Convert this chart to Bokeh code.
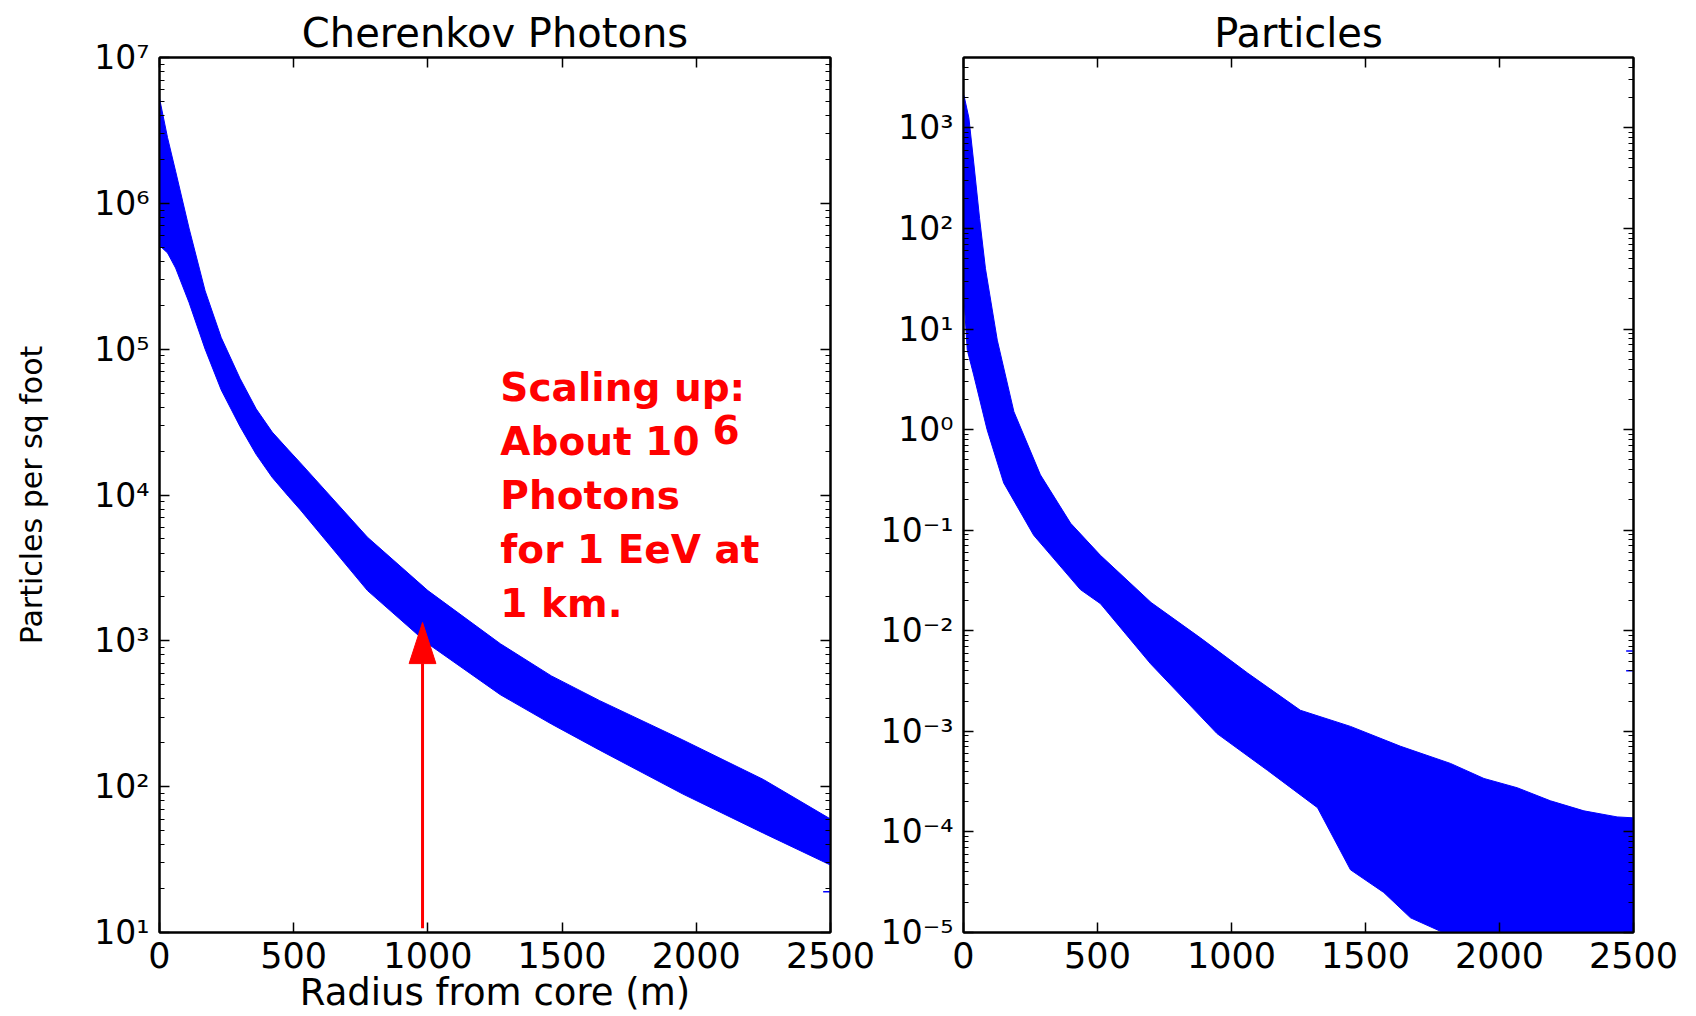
from bokeh.plotting import figure
from bokeh.layouts import row
from bokeh.models import (Range1d, FixedTicker, LinearAxis, LogAxis, CustomJSTickFormatter,
                          ColumnDataSource)
from bokeh.core.properties import value
from bokeh.embed import file_html
from bokeh.resources import INLINE

# ---------------- data ----------------
X_TICKS = [0, 500, 1000, 1500, 2000, 2500]

# Cherenkov photons: upper / lower edge of the error-bar band
CH_R = [0, 30, 60, 110, 170, 230, 300, 360, 420, 480, 525, 775, 1000, 1270, 1460, 1640, 1950, 2250, 2500]
CH_UP = [5.25e6, 2.82e6, 1.66e6, 6.76e5, 2.51e5, 1.2e5, 6.3e4, 3.9e4, 2.7e4, 2.04e4, 1.66e4, 5.13e3,
         2.21e3, 955, 575, 389, 209, 112, 60]
CH_LO = [5.13e5, 4.57e5, 3.6e5, 2.09e5, 1.0e5, 5.25e4, 2.95e4, 1.9e4, 1.32e4, 9.8e3, 7.9e3, 2.21e3,
         955, 427, 269, 178, 89, 48, 29]
CH_STRAY_R = [2495]
CH_STRAY_V = [19]
CH_EXPONENTS = [1, 2, 3, 4, 5, 6, 7]

# Particles: upper / lower edge of the error-bar band
PA_UP_R = [2, 20, 38, 60, 82, 126, 188, 287, 400, 511, 700, 884, 1060, 1257, 1444, 1631,
           1817, 1942, 2066, 2190, 2315, 2439, 2500]
PA_UP = [2090, 1260, 457, 126, 39.8, 7.76, 1.51, 0.355, 0.117, 0.0562, 0.0191, 8.5e-3, 3.8e-3,
         1.62e-3, 1.12e-3, 7.1e-4, 4.8e-4, 3.4e-4, 2.75e-4, 2.04e-4, 1.62e-4, 1.41e-4, 1.38e-4]
PA_LO_R = [2, 14, 38, 88, 150, 262, 436, 511, 698, 946, 1134, 1321, 1444, 1568, 1668, 1790, 1850, 2500]
PA_LO = [20, 6.2, 3.5, 1.0, 0.295, 0.089, 0.0257, 0.0186, 4.7e-3, 9.5e-4, 4.1e-4, 1.74e-4,
         4.2e-5, 2.5e-5, 1.4e-5, 1.0e-5, 5e-6, 5e-6]
PA_STRAY_R = [2495, 2495]
PA_STRAY_V = [6.3e-3, 4.0e-3]
PA_EXPONENTS = [-5, -4, -3, -2, -1, 0, 1, 2, 3]

ANNOT_LINES = ["Scaling up:", "About 10", "Photons", "for 1 EeV at", "1 km."]
ANNOT_SUP = "6"

# ---------------- annotation placement / style ----------------
ANNOT_X = 1270
ANNOT_Y = [10 ** 4.735, 10 ** 4.365, 10 ** 3.995, 10 ** 3.624, 10 ** 3.254]
SUP_X = 2060
SUP_Y = 10 ** 4.45
ARROW_X = 980
ARROW_FROM = 10.7
ARROW_BASE = 698
ARROW_TIP = 1337
ARROW_HALF_W = 50

BLUE = "#0000ff"
RED = "#ff0000"
FONT = "DejaVu Sans"

sup_js = """
const sup = {"-": "\\u207b", "0": "\\u2070", "1": "\\u00b9", "2": "\\u00b2", "3": "\\u00b3",
             "4": "\\u2074", "5": "\\u2075", "6": "\\u2076", "7": "\\u2077", "8": "\\u2078", "9": "\\u2079"};
const e = Math.round(Math.log10(tick));
return "10" + String(e).split("").map(c => sup[c]).join("");
"""


def log_ticker(exps, lo, hi):
    majors = [10.0 ** e for e in exps]
    minors = []
    for e in range(min(exps) - 1, max(exps) + 1):
        for k in range(2, 10):
            t = k * 10.0 ** e
            if lo <= t <= hi:
                minors.append(t)
    return FixedTicker(ticks=majors, minor_ticks=minors)


def style_axis(ax, labels=True, minor=True):
    ax.axis_line_color = "black"
    ax.axis_line_width = 2
    ax.major_tick_line_color = "black"
    ax.major_tick_line_width = 1.5
    ax.major_tick_in = 10
    ax.major_tick_out = 0
    ax.minor_tick_line_color = "black" if minor else None
    ax.minor_tick_line_width = 1.2
    ax.minor_tick_in = 5 if minor else 0
    ax.minor_tick_out = 0
    ax.major_label_text_font = FONT
    ax.major_label_text_color = "black"
    if not labels:
        ax.major_label_text_font_size = "1px"
        ax.major_label_text_color = None
        ax.major_label_standoff = 0


def make_fig(title, width, ylo, yhi, exps, border_left, border_right):
    xt = FixedTicker(ticks=X_TICKS)
    yt = log_ticker(exps, ylo, yhi)
    fmt = CustomJSTickFormatter(code=sup_js)

    p = figure(width=width, height=1016, x_range=Range1d(0, 2500), y_range=Range1d(ylo, yhi),
               x_axis_location=None, y_axis_location=None,
               y_axis_type="log", output_backend="svg", toolbar_location=None,
               min_border_left=border_left, min_border_right=border_right,
               min_border_top=57, min_border_bottom=84, title=title)
    p.title.align = "center"
    p.title.text_font = FONT
    p.title.text_font_size = "40px"
    p.title.text_font_style = "normal"
    p.title.text_color = "black"
    p.title.standoff = 4
    p.grid.visible = False
    p.outline_line_color = "black"
    p.outline_line_width = 2
    p.background_fill_color = "white"
    p.border_fill_color = "white"

    xa = LinearAxis(ticker=xt)
    style_axis(xa, minor=False)
    xa.major_label_text_font_size = "35px"
    xa.major_label_standoff = 9
    p.add_layout(xa, "below")

    ya = LogAxis(ticker=yt, formatter=fmt)
    style_axis(ya)
    ya.major_label_text_font_size = "33px"
    ya.major_label_standoff = 10
    p.add_layout(ya, "left")

    top = LinearAxis(ticker=xt)
    style_axis(top, labels=False, minor=False)
    p.add_layout(top, "above")
    right = LogAxis(ticker=yt)
    style_axis(right, labels=False)
    p.add_layout(right, "right")
    return p, xa, ya


# ---------------- left: Cherenkov photons ----------------
p1, ax, ay = make_fig("Cherenkov Photons", 876, 10, 1e7, CH_EXPONENTS, 159, 46)
p1.patch(CH_R + CH_R[::-1], CH_UP + CH_LO[::-1], fill_color=BLUE, line_color=BLUE, line_width=1)
p1.scatter(CH_STRAY_R, CH_STRAY_V, marker="dash", size=12, line_color=BLUE, line_width=1.5)

ax.axis_label = "Radius from core (m)"
ax.axis_label_text_font = FONT
ax.axis_label_text_font_size = "37px"
ax.axis_label_text_font_style = "normal"
ax.axis_label_text_color = "black"
ax.axis_label_standoff = 0

ay.axis_label = "Particles per sq foot"
ay.axis_label_text_font = FONT
ay.axis_label_text_font_size = "30px"
ay.axis_label_text_font_style = "normal"
ay.axis_label_text_color = "black"
ay.axis_label_standoff = 42

# arrow
p1.segment(x0=[ARROW_X], y0=[ARROW_FROM], x1=[ARROW_X], y1=[ARROW_BASE], line_color=RED, line_width=3)
p1.patch([ARROW_X - ARROW_HALF_W, ARROW_X + ARROW_HALF_W, ARROW_X],
         [ARROW_BASE, ARROW_BASE, ARROW_TIP], fill_color=RED, line_color=RED)

# annotation text
src = ColumnDataSource(dict(x=[ANNOT_X] * len(ANNOT_LINES), y=ANNOT_Y, t=ANNOT_LINES))
p1.text(x="x", y="y", text="t", source=src, text_font=value(FONT), text_font_style="bold",
        text_font_size="39px", text_color=RED, text_baseline="alphabetic", text_align="left")
p1.text(x=[SUP_X], y=[SUP_Y], text=[ANNOT_SUP], text_font=value(FONT), text_font_style="bold",
        text_font_size="39px", text_color=RED, text_baseline="alphabetic", text_align="left")

# ---------------- right: Particles ----------------
p2, _, _ = make_fig("Particles", 820, 1e-5, 10 ** 3.7, PA_EXPONENTS, 87, 63)
p2.patch(PA_UP_R + PA_LO_R[::-1], PA_UP + PA_LO[::-1], fill_color=BLUE, line_color=BLUE, line_width=1)
p2.scatter(PA_STRAY_R, PA_STRAY_V, marker="dash", size=12, line_color=BLUE, line_width=1.5)

layout = row(p1, p2)
open("out.html", "w").write(file_html(layout, INLINE))
